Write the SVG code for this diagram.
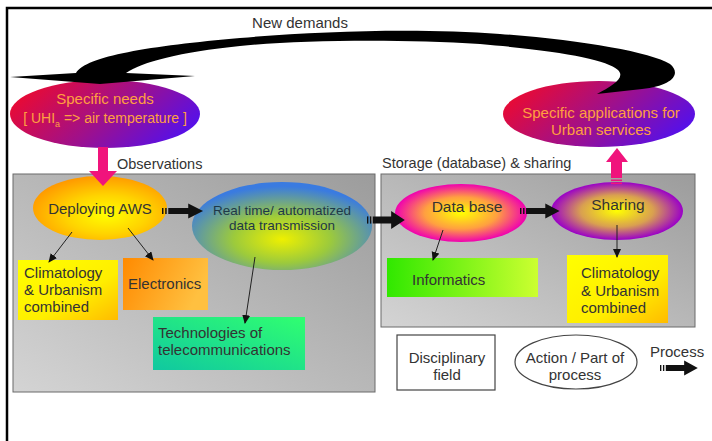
<svg xmlns="http://www.w3.org/2000/svg" width="712" height="441" viewBox="0 0 712 441">
<defs>
<style>
text{font-family:"Liberation Sans",Arial,sans-serif;font-size:15px;fill:#333}
.o{fill:#ffa040}
.c{text-anchor:middle}
.thin{stroke:#222;stroke-width:1;fill:none;marker-end:url(#ah)}
.pink{fill:#f0147c}
</style>
<marker id="ah" markerWidth="10" markerHeight="10" refX="8" refY="4" orient="auto" markerUnits="userSpaceOnUse">
<path d="M0,0 L9,4 L0,8 Z" fill="#111"/>
</marker>
<linearGradient id="gray" x1="1" y1="0" x2="0" y2="1">
<stop offset="0" stop-color="#9c9c9c"/><stop offset="1" stop-color="#d4d4d4"/>
</linearGradient>
<linearGradient id="rb" x1="0" y1="0.3" x2="1" y2="0.7">
<stop offset="0" stop-color="#ec0a30"/><stop offset="0.5" stop-color="#a0108a"/><stop offset="1" stop-color="#5010f0"/>
</linearGradient>
<radialGradient id="aws" cx="0.55" cy="0.6" r="0.6">
<stop offset="0" stop-color="#ffff00"/><stop offset="0.5" stop-color="#ffd400"/><stop offset="1" stop-color="#ff9a00"/>
</radialGradient>
<radialGradient id="rt" cx="0.5" cy="0.65" r="0.6">
<stop offset="0" stop-color="#eef000"/><stop offset="0.45" stop-color="#9cca3c"/><stop offset="1" stop-color="#3a7be0"/>
</radialGradient>
<radialGradient id="db" cx="0.5" cy="0.5" r="0.5">
<stop offset="0" stop-color="#ffff00"/><stop offset="0.55" stop-color="#ffa040"/><stop offset="1" stop-color="#f000b0"/>
</radialGradient>
<radialGradient id="sh" cx="0.5" cy="0.5" r="0.5">
<stop offset="0" stop-color="#ffff00"/><stop offset="0.55" stop-color="#d9a050"/><stop offset="1" stop-color="#9a00c8"/>
</radialGradient>
<linearGradient id="yel" x1="0" y1="0" x2="1" y2="1">
<stop offset="0" stop-color="#ffff00"/><stop offset="0.6" stop-color="#ffee00"/><stop offset="1" stop-color="#ffbb00"/>
</linearGradient>
<linearGradient id="ora" x1="0" y1="0" x2="1" y2="0.3">
<stop offset="0" stop-color="#ff8a00"/><stop offset="1" stop-color="#ffc040"/>
</linearGradient>
<linearGradient id="tel" x1="0" y1="1" x2="1" y2="0">
<stop offset="0" stop-color="#10c8a0"/><stop offset="1" stop-color="#30ff70"/>
</linearGradient>
<linearGradient id="inf" x1="0" y1="0" x2="1" y2="0">
<stop offset="0" stop-color="#30e800"/><stop offset="1" stop-color="#ccff30"/>
</linearGradient>
<g id="proc">
<rect x="0" y="-3" width="1.3" height="6" fill="#111"/>
<rect x="2.8" y="-3" width="1.3" height="6" fill="#111"/>
<path d="M5.5,-3 H23 V-7.5 L36,0 L23,7.5 V3 H5.5 Z" fill="#111"/>
</g>
</defs>

<rect width="712" height="441" fill="#fff"/>
<path d="M7,441 V8 H712" fill="none" stroke="#000" stroke-width="2.5"/>

<rect id="obs-box" x="13" y="174" width="362" height="218" fill="url(#gray)" stroke="#6a6a6a" stroke-width="1"/>
<rect id="sto-box" x="381" y="174" width="314" height="153" fill="url(#gray)" stroke="#6a6a6a" stroke-width="1"/>
<text x="117" y="169" style="font-size:14.5px">Observations</text>
<text x="382" y="168" style="font-size:14.5px">Storage (database) &amp; sharing</text>
<text class="c" x="300" y="28">New demands</text>

<g id="needs">
<ellipse cx="105" cy="114" rx="95" ry="34" fill="url(#rb)"/>
<text class="c o" x="105" y="104">Specific needs</text>
<text class="c o" x="105" y="123" style="font-size:14px">[ UHI<tspan style="font-size:9px" dy="4">a</tspan><tspan dy="-4"> =&gt; air temperature ]</tspan></text>
</g>
<g id="apps">
<ellipse cx="599" cy="114" rx="96" ry="33" fill="url(#rb)"/>
<text class="c o" x="601" y="118">Specific applications for</text>
<text class="c o" x="601" y="135">Urban services</text>
</g>

<g id="aws-node">
<ellipse cx="100" cy="208" rx="67" ry="32" fill="url(#aws)"/>
<text class="c" x="100" y="214">Deploying AWS</text>
</g>
<g id="rt-node">
<ellipse cx="282" cy="226" rx="90" ry="44" fill="url(#rt)"/>
<text class="c" x="282" y="215" style="font-size:13.5px;fill:#1e3848">Real time/ automatized</text>
<text class="c" x="282" y="230" style="font-size:13.5px;fill:#1e3848">data transmission</text>
</g>
<g id="db-node">
<ellipse cx="461" cy="213" rx="66" ry="29" fill="url(#db)"/>
<text class="c" x="467" y="212" style="font-size:15.5px">Data base</text>
</g>
<g id="sh-node">
<ellipse cx="617" cy="211" rx="66" ry="29" fill="url(#sh)"/>
<text class="c" x="618" y="210" style="font-size:15.5px">Sharing</text>
</g>

<g id="clim1">
<rect x="18" y="260" width="100" height="60" fill="url(#yel)"/>
<text x="24" y="278">Climatology</text>
<text x="24" y="295">&amp; Urbanism</text>
<text x="24" y="312">combined</text>
</g>
<g id="elec">
<rect x="123" y="258" width="85" height="52" fill="url(#ora)"/>
<text x="128" y="289">Electronics</text>
</g>
<g id="tele">
<rect x="153" y="317" width="152" height="53" fill="url(#tel)"/>
<text x="158" y="338">Technologies of</text>
<text x="158" y="355">telecommunications</text>
</g>
<g id="info">
<rect x="387" y="258" width="151" height="39" fill="url(#inf)"/>
<text x="412" y="285">Informatics</text>
</g>
<g id="clim2">
<rect x="567" y="255" width="101" height="68" fill="url(#yel)"/>
<text x="581" y="278">Climatology</text>
<text x="581" y="296">&amp; Urbanism</text>
<text x="581" y="313">combined</text>
</g>

<g id="legend-field">
<rect x="397" y="335" width="98" height="55" fill="#fff" stroke="#444" stroke-width="1.2"/>
<text class="c" x="447" y="363">Disciplinary</text>
<text class="c" x="447" y="380">field</text>
</g>
<g id="legend-action">
<ellipse cx="576" cy="362" rx="61" ry="27" fill="#fff" stroke="#444" stroke-width="1.2"/>
<text class="c" x="575" y="363">Action / Part of</text>
<text class="c" x="575" y="380">process</text>
</g>
<g id="legend-process">
<text x="650" y="357">Process</text>
<use href="#proc" transform="translate(660,368) scale(1.05,1)"/>
</g>

<g id="connectors">
<path d="M76,73 C86,56 150,46 240,38 C320,31 420,28 500,34 C580,40 650,52 670,64 C682,74 672,86 642,89 L597,94 C612,86 626,78 618,70 C606,59 560,51 480,44 C400,39 300,40 240,46 C180,52 142,62 126,73 L195,76 L100,84 L10,77 Z" fill="#000"/>
<rect class="pink" x="98" y="147" width="10" height="25"/>
<path class="pink" d="M89,171 H117 L103,186 Z"/>
<rect class="pink" x="611" y="161" width="11" height="17"/>
<rect class="pink" x="611" y="179.5" width="11" height="1.6"/>
<rect class="pink" x="611" y="182.5" width="11" height="1.6"/>
<path class="pink" d="M606,162 H628 L617,148 Z"/>
<use href="#proc" transform="translate(162,211) scale(1.14,1)"/>
<use href="#proc" transform="translate(367,220) scale(1.05,1.2)"/>
<use href="#proc" transform="translate(520,211) scale(1.1,1)"/>
<path class="thin" d="M72,232 L49,262"/>
<path class="thin" d="M128,228 L153,260"/>
<path class="thin" d="M255,257 L245,323"/>
<path class="thin" d="M443,230 L433,260"/>
<path class="thin" d="M617,225 L617,257"/>
</g>
</svg>
